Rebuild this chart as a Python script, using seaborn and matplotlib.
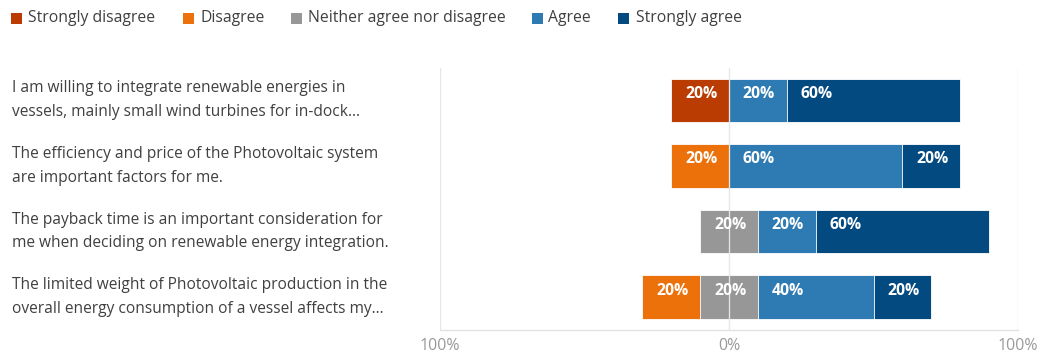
import matplotlib
matplotlib.use("Agg")
import matplotlib.pyplot as plt
from matplotlib.patches import Rectangle
import pandas as pd
import seaborn as sns

# Survey statements (as displayed, wrapped and truncated)
statements = [
    "I am willing to integrate renewable energies in\nvessels, mainly small wind turbines for in-dock...",
    "The efficiency and price of the Photovoltaic system\nare important factors for me.",
    "The payback time is an important consideration for\nme when deciding on renewable energy integration.",
    "The limited weight of Photovoltaic production in the\noverall energy consumption of a vessel affects my...",
]
row_keys = ["Q1", "Q2", "Q3", "Q4"]

levels = ["Strongly disagree", "Disagree", "Neither agree nor disagree", "Agree", "Strongly agree"]
strongly_disagree = [20, 0, 0, 0]
disagree = [0, 20, 0, 20]
neutral = [0, 0, 20, 20]
agree = [20, 60, 20, 40]
strongly_agree = [60, 20, 60, 20]

colors = {
    "Strongly disagree": "#BB3C03",
    "Disagree": "#EC710A",
    "Neither agree nor disagree": "#979797",
    "Agree": "#2E7BB3",
    "Strongly agree": "#034A80",
}

sns.set_theme(style="white")
plt.rcParams["font.family"] = ["Open Sans", "DejaVu Sans"]

df = pd.DataFrame({
    "row": row_keys,
    "sd": strongly_disagree,
    "d": disagree,
    "n": neutral,
    "a": agree,
    "sa": strongly_agree,
})
half_n = df["n"] / 2

# Segment boundaries of the diverging stack
df["left_sd"] = -(df["sd"] + df["d"] + half_n)
df["left_d"] = -(df["d"] + half_n)
df["left_n"] = -half_n
df["right_n"] = half_n
df["right_a"] = half_n + df["a"]
df["right_sa"] = half_n + df["a"] + df["sa"]

W, H = 1037, 354
fig = plt.figure(figsize=(W / 100, H / 100), dpi=100)
ax_bottom, ax_top = 330, 68
ax = fig.add_axes([440 / W, 1 - ax_bottom / H, 578 / W, (ax_bottom - ax_top) / H])

bar_h = 0.66
edge = dict(edgecolor="#ffffff", linewidth=0.6)
# Overlaid cumulative bars: outermost first, inner segments drawn on top
layers = [
    ("left_sd", "Strongly disagree"),
    ("left_d", "Disagree"),
    ("left_n", "Neither agree nor disagree"),
    ("right_sa", "Strongly agree"),
    ("right_a", "Agree"),
    ("right_n", "Neither agree nor disagree"),
]
for col, level in layers:
    sns.barplot(data=df, x=col, y="row", order=row_keys, orient="h",
                color=colors[level], width=bar_h, saturation=1, ax=ax,
                errorbar=None, **edge)

# Value labels, placed just inside the start of each segment
seg_starts = {
    "sd": df["left_sd"], "d": df["left_d"], "n": df["left_n"],
    "a": df["right_n"], "sa": df["right_a"],
}
for key in ["sd", "d", "n", "a", "sa"]:
    for i in range(len(df)):
        v = df[key].iloc[i]
        if v > 0:
            ax.text(seg_starts[key].iloc[i] + 4.8, i - 0.1, f"{v}%",
                    color="white", fontsize=11.3, fontweight="bold",
                    ha="left", va="center", zorder=5)

ylim_top, ylim_bot = -0.49, 3.5
ax.set_xlim(-100, 100)
ax.set_ylim(ylim_bot, ylim_top)
ax.set_xticks([-100, 0, 100])
ax.set_xticklabels(["100%", "0%", "100%"])
ax.tick_params(axis="x", colors="#9a9a9a", labelsize=11.5, length=0, pad=6)
ax.set_yticks([])
ax.set_xlabel("")
ax.set_ylabel("")
for x in [-100, 0, 100]:
    ax.axvline(x, color="#e2e2e2", linewidth=1.0, zorder=4 if x == 0 else 0.5, alpha=0.8)
for s in ["top", "right", "left"]:
    ax.spines[s].set_visible(False)
ax.spines["bottom"].set_color("#e2e2e2")
ax.spines["bottom"].set_linewidth(1.0)
ax.set_facecolor("white")

# Statement labels on the left, centred on their bars
for i, text in enumerate(statements):
    ypix = ax_top + (i - ylim_top) / (ylim_bot - ylim_top) * (ax_bottom - ax_top)
    fig.text(12 / W, 1 - ypix / H, text, ha="left", va="center", fontsize=11.2,
             color="#404040", linespacing=1.62)

# Legend across the top: square swatch followed by its label
legend_squares = [11, 183, 291, 532, 618]
legend_texts = [28, 200, 308, 548, 636]
sq = 11
for level, xs, xt in zip(levels, legend_squares, legend_texts):
    fig.patches.append(Rectangle((xs / W, 1 - 24 / H), sq / W, sq / H,
                                 transform=fig.transFigure, facecolor=colors[level],
                                 edgecolor="none"))
    fig.text(xt / W, 1 - 18 / H, level, ha="left", va="center", fontsize=11.3,
             color="#404040")

fig.savefig("out.png", dpi=100)
